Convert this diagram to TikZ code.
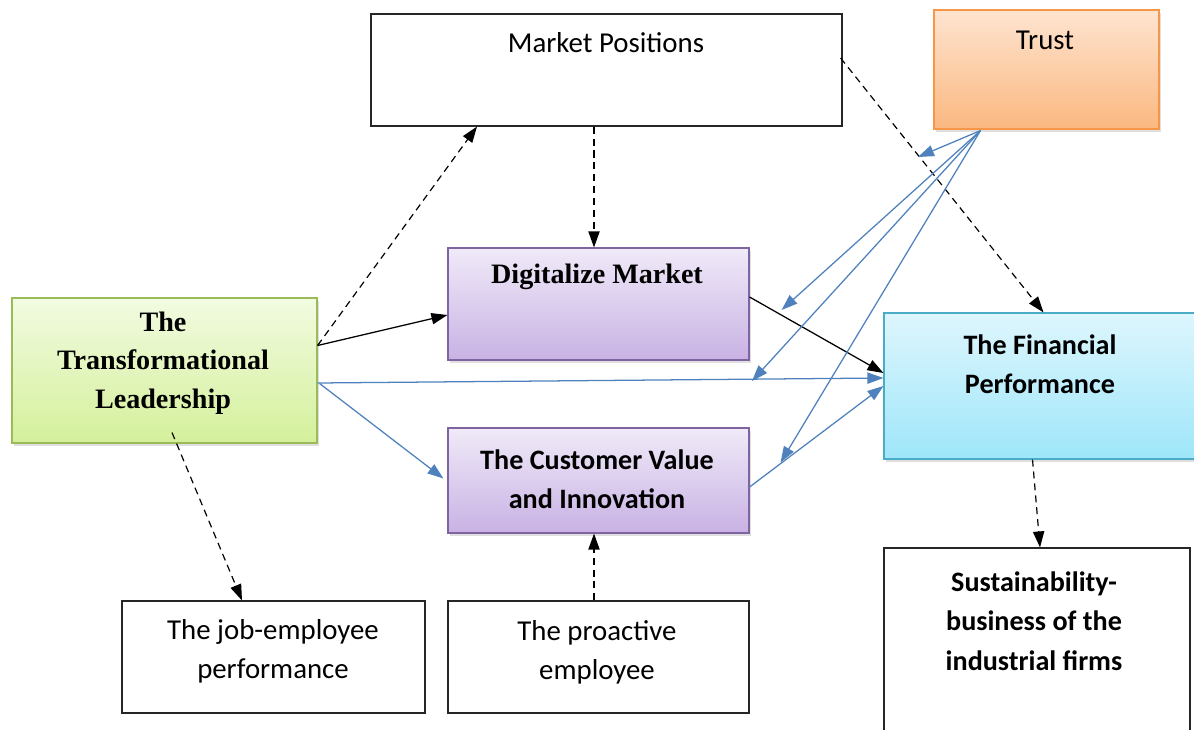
\documentclass[tikz,border=0pt]{standalone}
\usepackage{fontspec}
\setmainfont{Carlito}
\newfontfamily\timesfont{Liberation Serif}
\usetikzlibrary{calc, positioning, fit, arrows.meta, shadows}
\definecolor{lineblue}{RGB}{79,129,189}
\definecolor{grnline}{RGB}{155,187,89}
\definecolor{grntop}{RGB}{242,251,225}
\definecolor{grnbot}{RGB}{212,240,155}
\definecolor{prpline}{RGB}{128,100,162}
\definecolor{prptop}{RGB}{240,234,248}
\definecolor{prpbot}{RGB}{200,178,228}
\definecolor{cynline}{RGB}{75,172,198}
\definecolor{cyntop}{RGB}{222,246,253}
\definecolor{cynbot}{RGB}{158,230,250}
\definecolor{orgline}{RGB}{247,150,70}
\definecolor{orgtop}{RGB}{254,228,208}
\definecolor{orgbot}{RGB}{251,184,128}

\begin{document}
\begin{tikzpicture}[x=0.025cm, y=-0.025cm,
                  every node/.style={inner sep=0mm},
                  shd/.style={drop shadow={opacity=0.25, shadow xshift=1.5pt, shadow yshift=-2pt}},
                  plain/.style={draw=black!85, line width=0.8pt, fill=white},
                  grn/.style={draw=grnline, line width=0.8pt, top color=grntop, bottom color=grnbot, shd},
                  prp/.style={draw=prpline, line width=0.8pt, top color=prptop, bottom color=prpbot, shd},
                  cyn/.style={draw=cynline, line width=0.8pt, top color=cyntop, bottom color=cynbot, shd},
                  org/.style={draw=orgline, line width=0.8pt, top color=orgtop, bottom color=orgbot, shd},
                  txt/.style={font=\fontsize{20.5}{28}\selectfont, align=center},
                  txtb/.style={font=\fontsize{20}{28}\selectfont\bfseries, align=center},
                  txts/.style={font=\fontsize{20}{27.5}\selectfont\timesfont\bfseries, align=center},
                  tip/.style={-{Triangle[length=4mm, width=2.8mm]}},
                  dsh/.style={tip, dash pattern=on 5pt off 3.5pt, line width=0.85pt},
                  blk/.style={tip, line width=0.9pt},
                  blu/.style={tip, lineblue, line width=0.9pt}]

    \useasboundingbox (0,0) rectangle (1194,729); % same frame as the reference

    % boxes
    \node [plain, fit={(371,14) (842,126)}]   (mp)    {};
    \node [org,   fit={(934,10) (1159,129)}]  (trust) {};
    \node [prp,   fit={(448,248) (749,360)}]  (dm)    {};
    \node [grn,   fit={(12,298) (317,443)}]   (tl)    {};
    \node [prp,   fit={(448,428) (749,533)}]  (cv)    {};
    \node [cyn,   fit={(884,313) (1197,459)}] (fp)    {};
    \node [plain, fit={(122,601) (425,713)}]  (job)   {};
    \node [plain, fit={(448,601) (749,713)}]  (pro)   {};
    \node [plain, fit={(884,548) (1190,760)}] (sus)   {};

    % texts
    \node [txt]  (mpT)    at (606,43)  {Market Positions};
    \node [txt]  (trustT) at (1045,40) {Trust};
    \node [txts] (dmT)    at (597,277) {Digitalize Market};
    \node [txts] (tlT)    at (163,363) {The\\Transformational\\Leadership};
    \node [txtb] (cvT)    at (597,479) {The Customer Value\\and Innovation};
    \node [txtb] (fpT)    at (1040,364){The Financial\\Performance};
    \node [txt]  (jobT)   at (273,651) {The job-employee\\performance};
    \node [txt]  (proT)   at (597,652) {The proactive\\employee};
    \node [txtb] (susT)   at (1034,621){Sustainability-\\business of the\\industrial firms};

    % free ends of the trust arrows
    \coordinate (ts) at ($(trust.south)+(-66,1)$);
    \coordinate (t1) at (918,157);
    \coordinate (t2) at ($(dm.east)+(32,6)$);
    \coordinate (t3) at (752,381);
    \coordinate (t4) at ($(cv.east)+(31,-18)$);

    % dashed links
    \draw [dsh] ($(tl.east)+(0,-25)$) -- ($(mp.south)+(-129.5,0)$);
    \draw [dsh] ($(mp.south)+(-12.5,0)$) -- ($(dm.north)+(-4.5,0)$);
    \draw [dsh] ($(mp.east)+(-2,-12)$) -- ($(fp.north)+(3,0)$);
    \draw [dsh] ($(tl.south)+(7.5,-11)$) -- ($(job.north)+(-31.5,0)$);
    \draw [dsh] ($(pro.north)+(-4.5,0)$) -- ($(cv.south)+(-4.5,0)$);
    \draw [dsh] ($(fp.south)+(-8,0)$) -- ($(sus.north)+(3,0)$);

    % solid links
    \draw [blk] ($(tl.east)+(0,-25)$) -- ($(dm.west)+(0,11)$);
    \draw [blk] ($(dm.east)+(0,-7)$) -- ($(fp.west)+(0,-13)$);
    \draw [blu] ($(tl.east)+(0,12.5)$) -- ($(fp.west)+(0,-8)$);
    \draw [blu] ($(tl.east)+(2,13)$) -- ($(cv.west)+(-4,-2)$);
    \draw [blu] ($(cv.east)+(0,6.5)$) -- (fp.west);
    \foreach \t in {t1, t2, t3, t4}
        \draw [blu] (ts) -- (\t);

\end{tikzpicture}
\end{document}
